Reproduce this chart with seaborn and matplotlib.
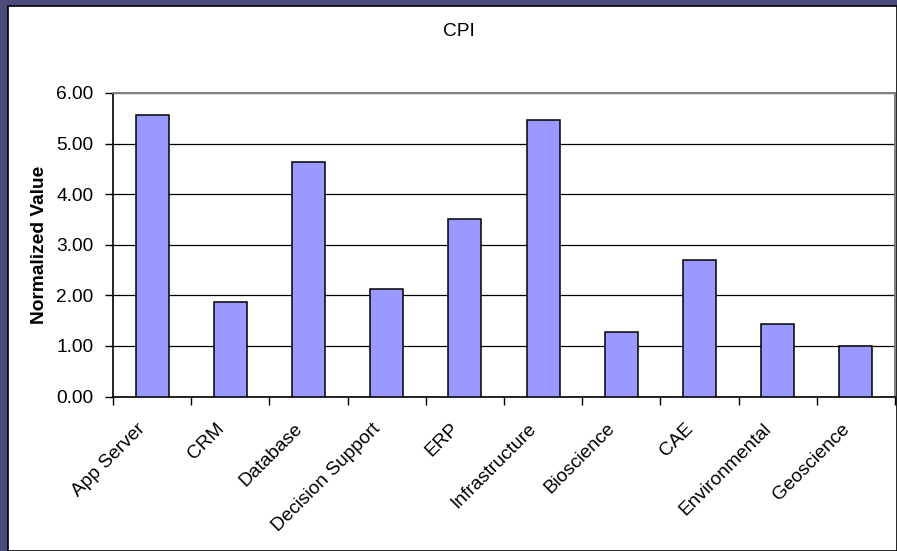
import matplotlib
matplotlib.use("Agg")
import matplotlib.pyplot as plt
from matplotlib.patches import Rectangle
from matplotlib.transforms import ScaledTranslation
import seaborn as sns
import pandas as pd

categories = ["App Server", "CRM", "Database", "Decision Support", "ERP",
              "Infrastructure", "Bioscience", "CAE", "Environmental", "Geoscience"]
values = [5.56, 1.87, 4.63, 2.13, 3.51, 5.47, 1.28, 2.69, 1.43, 1.00]
y_ticks = [0, 1, 2, 3, 4, 5, 6]
title = "CPI"
y_label = "Normalized Value"

sns.set_style("white")
plt.rcParams["font.family"] = ["Liberation Sans", "DejaVu Sans"]
FS = 13.8

df = pd.DataFrame({"category": categories, "value": values})

W, H = 897, 551
fig = plt.figure(figsize=(W / 100, H / 100), dpi=100)
fig.patch.set_facecolor("#4c4c7c")

# white chart area inside the slide frame
fig.patches.append(Rectangle((8 / W, 0), 1 - 8 / W, 1 - 6 / H, transform=fig.transFigure,
                             facecolor="white", edgecolor="black", linewidth=1.2, zorder=-10))

ax = fig.add_axes([113 / W, (H - 396.5) / H, (895 - 113) / W, (396.5 - 93) / H])
ax.set_zorder(5)
ax.set_facecolor("white")

sns.barplot(data=df, x="category", y="value", color="#9999FF", edgecolor="black",
            linewidth=1.1, width=0.42, saturation=1, ax=ax, zorder=3)

ax.set_xlim(-0.5, len(categories) - 0.5)
ax.set_ylim(y_ticks[0], y_ticks[-1])
ax.set_yticks(y_ticks)
ax.set_yticklabels([f"{t:.2f}" for t in y_ticks], fontsize=FS, color="black")

# tick marks between categories, labels under each bar
ax.set_xticks([i - 0.5 for i in range(len(categories) + 1)])
ax.set_xticklabels([])
ax.set_xticks(range(len(categories)), minor=True)
ax.set_xticklabels(categories, minor=True, rotation=45, ha="right",
                   rotation_mode="anchor", fontsize=FS, color="black")
ax.tick_params(axis="x", which="major", direction="out", length=6, width=1, color="black", bottom=True)
ax.tick_params(axis="x", which="minor", length=0, pad=17)
ax.tick_params(axis="y", direction="out", length=6, width=1, color="black", left=True, pad=8)

shift = ScaledTranslation(-15 / 100, 0, fig.dpi_scale_trans)
for lbl in ax.get_xticklabels(minor=True):
    lbl.set_transform(lbl.get_transform() + shift)

ax.yaxis.grid(True, color="black", linewidth=0.9)
ax.set_axisbelow(True)

for side in ["left", "bottom"]:
    ax.spines[side].set_color("black")
    ax.spines[side].set_linewidth(1.2)
for side in ["top", "right"]:
    ax.spines[side].set_color("#808080")
    ax.spines[side].set_linewidth(1.4)
    ax.spines[side].set_visible(True)

ax.set_xlabel("")
ax.set_ylabel("")
fig.text(40 / W, 1 - 245 / H, y_label, rotation=90, ha="center", va="center",
         fontsize=FS, fontweight="bold", color="black")
fig.text(459 / W, 1 - 31 / H, title, ha="center", va="center", fontsize=FS, color="black")

fig.savefig("out.png", dpi=100, facecolor=fig.get_facecolor())
